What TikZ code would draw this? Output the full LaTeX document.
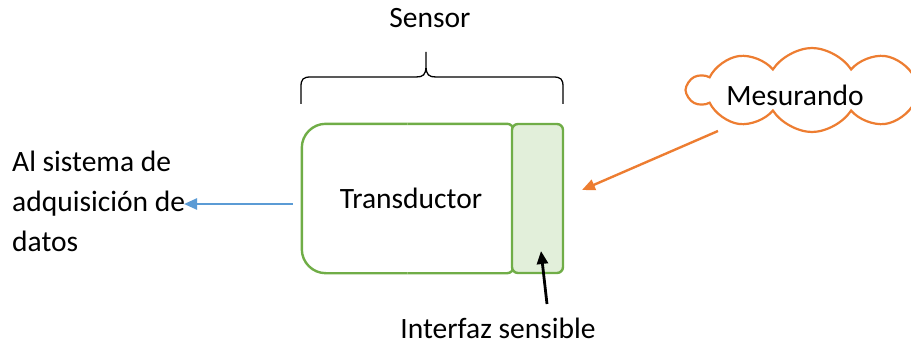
\documentclass[tikz,border=0pt]{standalone}
\usepackage{fontspec}
\setmainfont{Carlito}
\usetikzlibrary{shapes.symbols,arrows.meta}
\definecolor{gedge}{HTML}{70AD47}
\definecolor{gfill}{HTML}{E2EFDA}
\definecolor{oline}{HTML}{ED7D31}
\definecolor{bline}{HTML}{5B9BD5}
\tikzset{
  txt/.style={font=\fontsize{29.5}{40}\selectfont, inner sep=0pt},
  gline/.style={draw=gedge, line width=2.4pt},
  arr/.style={line width=2.4pt, -{Triangle[length=13pt,width=11pt]}},
}
\begin{document}
\begin{tikzpicture}[x=1pt,y=-1pt]
\useasboundingbox (0,0) rectangle (911,345);
% transducer
\node[rectangle, minimum width=211pt, minimum height=149pt, inner sep=0pt, txt] (trans) at (407.5,198.5) {\hspace{7pt}Transductor};
\draw[gline, rounded corners=24pt] (trans.north) -- (trans.north west) -- (trans.south west) -- (trans.south);
\draw[gline, rounded corners=6pt] (trans.south) -- (trans.south east) -- (trans.north east) -- (trans.north);
% sensing interface
\node[gline, fill=gfill, rectangle, rounded corners=6pt, minimum width=51pt, minimum height=149pt, inner sep=0pt] (sens) at (537.5,198.5) {};
% brace
\draw[line width=1.3pt, line join=round]
  (301,104) -- (301,87) .. controls (301,79) and (303,77) .. (311,77)
  -- (416,77) .. controls (423,77) and (426,75) .. (426,66) -- (426,52)
  (426,66) .. controls (426,75) and (429,77) .. (436,77)
  -- (553,77) .. controls (561,77) and (563,79) .. (563,87) -- (563,104);
\node[txt, anchor=base] (sensor) at (430,28) {Sensor};
% cloud
\node[cloud, draw=oline, line width=2.2pt, fill=white, cloud puffs=10, cloud puff arc=115, aspect=2.9,
  minimum width=248pt, minimum height=84pt, inner sep=0pt] (cloud) at (812,90) {};
\node[txt] (mes) at (795,95) {Mesurando};
% left text
\node[txt, anchor=base west, align=left] (datos) at (12,251) {Al sistema de\\adquisición de\\datos};
\coordinate (bend) at (184,204);
\draw[arr, draw=bline, fill=bline, shorten <=9pt] (trans.west |- bend) -- (bend);
% orange arrow
\coordinate (otail) at (718,131);
\coordinate (otip) at (582,190);
\draw[arr, draw=oline, fill=oline] (otail) -- (otip);
% interface label
\node[txt, anchor=base] (intf) at (498,338) {Interfaz sensible};
\coordinate (ktail) at (547,304);
\draw[arr, line width=2.8pt] (ktail) -- (541,251);
\end{tikzpicture}
\end{document}
